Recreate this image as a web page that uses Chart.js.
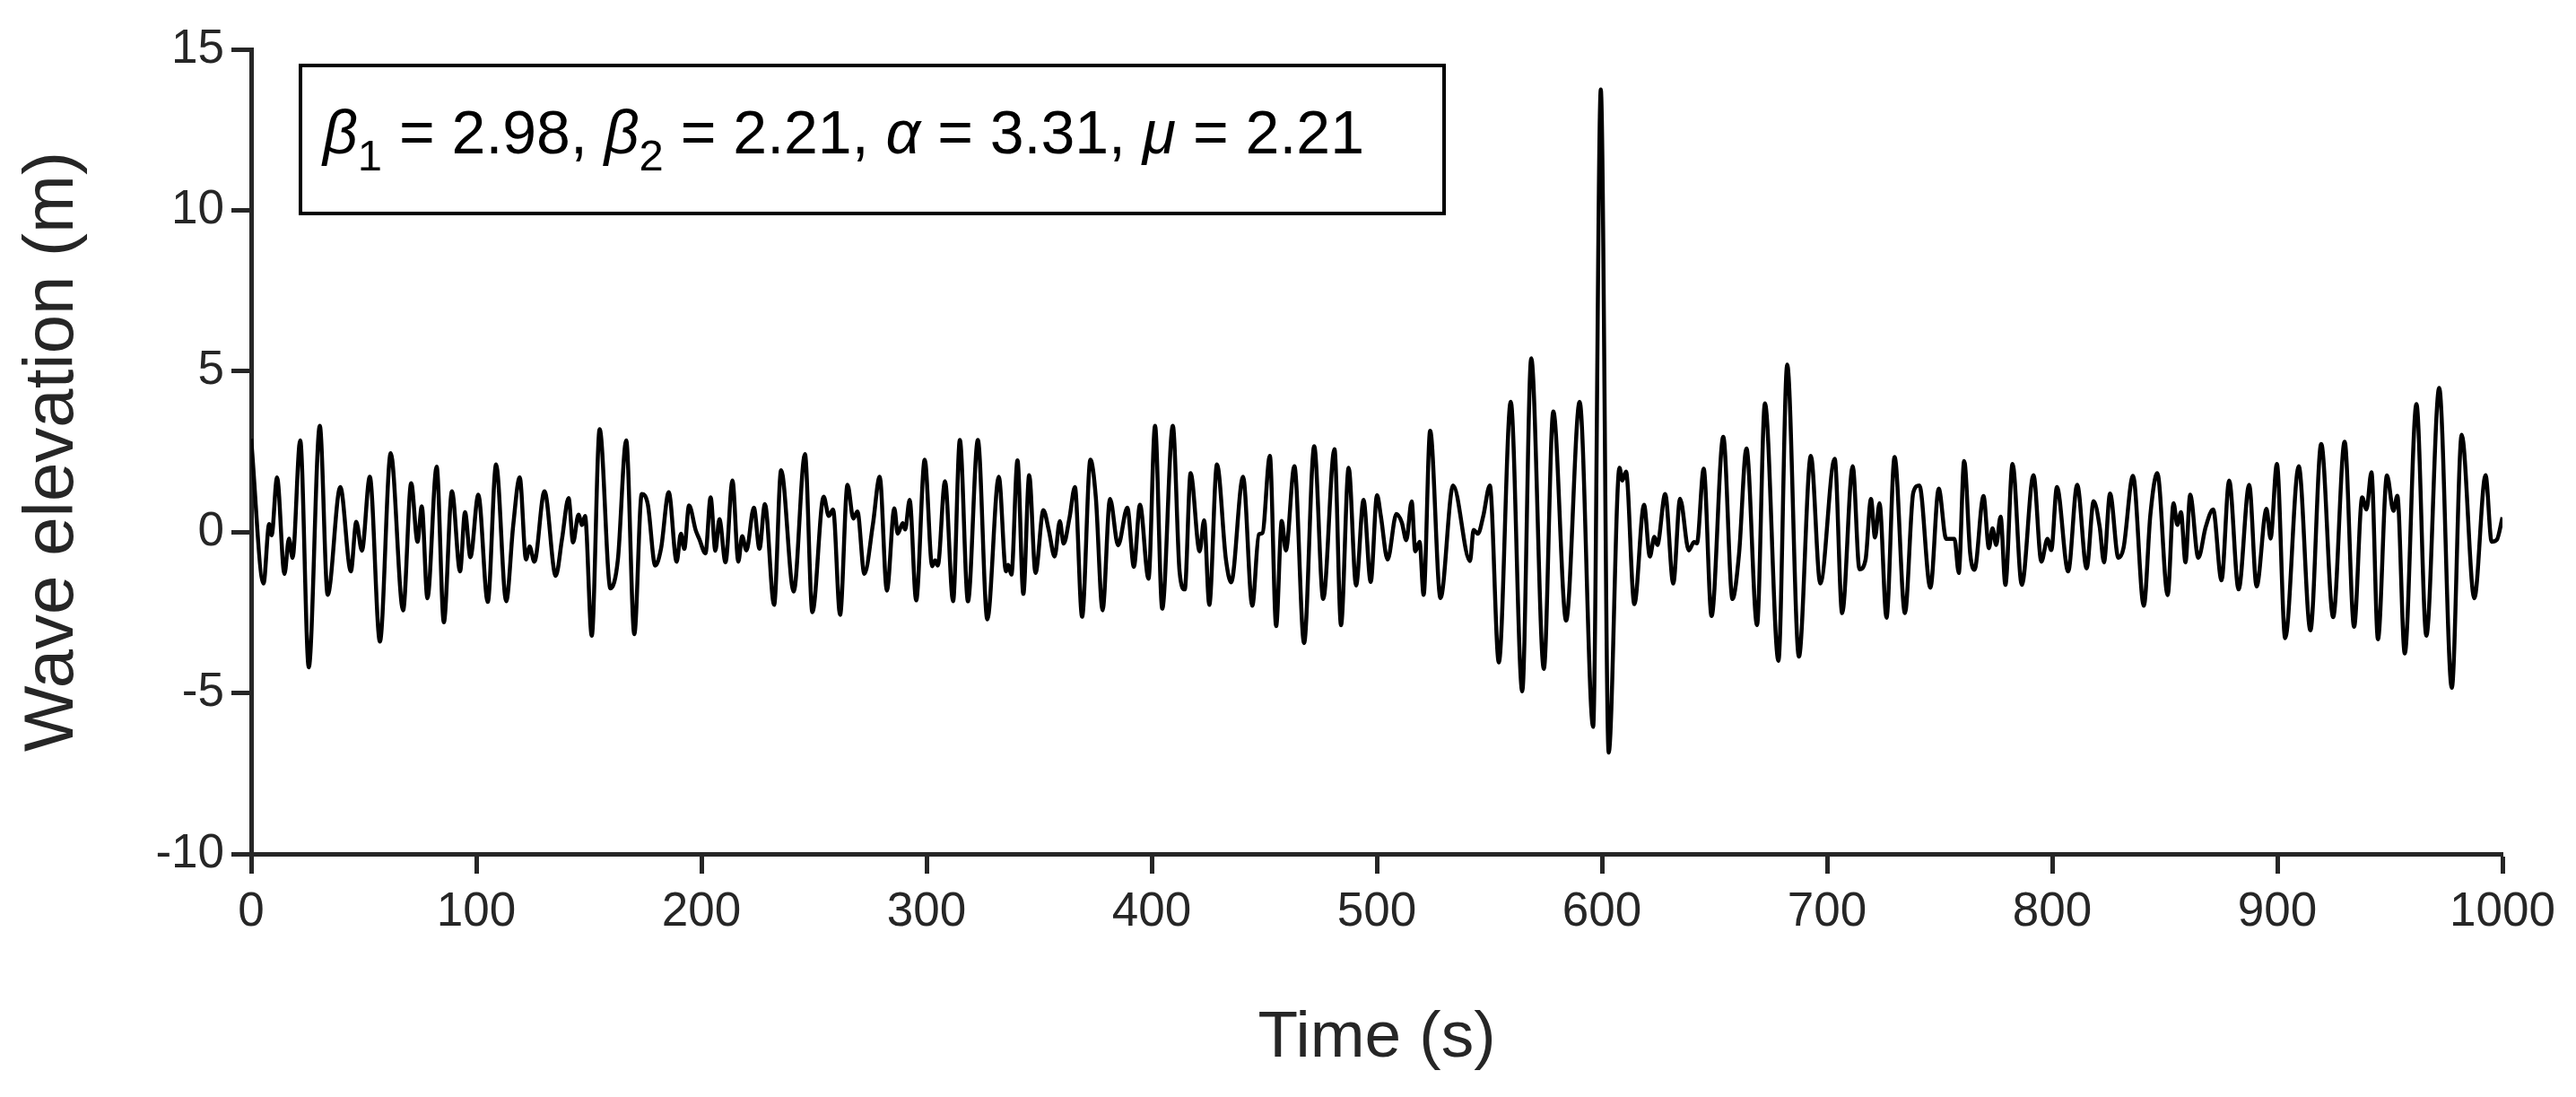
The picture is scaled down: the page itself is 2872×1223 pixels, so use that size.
<!DOCTYPE html>
<html>
<head>
<meta charset="utf-8">
<title>Wave elevation</title>
<script src="https://cdn.jsdelivr.net/npm/chart.js@4.4.1/dist/chart.umd.min.js"></script>
<style>
  html, body { margin: 0; padding: 0; background: #fff; }
  canvas { display: block; }
</style>
</head>
<body>
<canvas id="chartOla" width="2872" height="1223"></canvas>
<script>
// ── DATOS (crestas, valles y hombros) ──────────────────────────────
const timeS = [
    0, 5.5, 8.0, 9.1, 11.5, 14.8, 16.8, 18.4, 21.8, 25.6, 30.5, 34.0, 39.6, 44.3, 46.7, 49.2,
    52.7, 57.2, 62.0, 67.5, 71.1, 73.9, 75.8, 78.3, 82.4, 85.6, 89.2, 92.8, 95.0, 97.4,
    100.9, 105.1, 108.8, 113.3, 116.4, 119.3, 122.1, 123.7, 125.8, 130.3, 135.3, 138.1, 141.0,
    143.0, 145.4, 147.0, 148.3, 151.3, 154.8, 159.6, 162.9, 166.6, 170.2, 173.5, 176.2, 179.5,
    182.1, 185.5, 189.0, 190.9, 192.4, 194.5, 197.5, 199.1,
    201.8, 204.1, 206.2, 208.0, 210.7, 213.8, 216.4, 218.1, 220.0, 223.3, 225.8, 228.2, 232.3,
    235.4, 241.0, 246.0, 249.3, 254.3, 256.6, 258.5, 261.6, 264.9, 267.5, 269.3, 272.4, 276.2,
    279.2, 282.4, 285.7, 287.2, 289.4, 290.5, 292.5, 295.4, 299.2,
    302.5, 303.8, 305.0, 308.2, 311.8, 314.8, 318.4, 322.8, 327.0, 332.1, 335.3, 336.3, 337.7,
    340.4, 343.0, 345.6, 348.4, 351.9, 354.3, 356.9, 359.2, 360.9, 363.5, 365.9, 369.1, 372.8,
    375.2, 378.2, 381.5, 385.1, 389.2, 392.1, 394.8, 398.6,
    401.5, 404.7, 409.4, 412.4, 414.7, 417.3, 421.3, 423.3, 425.6, 429.0, 433.0, 435.3, 440.6,
    444.7, 447.6, 449.2, 452.5, 455.3, 457.8, 459.6, 463.4, 467.7, 472.2, 476.2, 481.2, 484.1,
    487.5, 490.8, 494.1, 497.3,
    500.1, 501.8, 504.8, 508.7, 511.1, 513.1, 515.5, 517.1, 519.0, 520.8, 523.7, 528.3, 533.9,
    541.4, 543.0, 544.9, 547.3, 550.2, 554.2, 559.5, 564.6, 568.6, 574.2, 578.4, 584.1, 590.1,
    596.1, 599.5, 603.0,
    607.8, 609.1, 610.7, 614.4, 618.7, 621.3, 623.3, 624.6, 628.1, 631.7, 634.7, 638.6, 640.9,
    642.2, 645.2, 648.7, 653.9, 658.0, 660.9, 664.2, 668.9, 672.4, 678.4, 682.3, 687.5, 692.8,
    697.0,
    703.4, 706.7, 711.4, 714.4, 717.1, 719.5, 721.3, 723.3, 726.4, 730.0, 734.6, 738.3, 741.0,
    745.9, 749.6, 752.9, 756.6, 758.5, 760.9, 763.6, 765.5, 769.5, 771.9, 773.5, 775.1, 777.1,
    779.2, 782.4, 786.5, 791.7, 795.2, 797.9, 799.6,
    802.1, 807.1, 811.1, 815.3, 818.4, 821.1, 823.0, 825.7, 829.4, 831.7, 835.9, 840.7, 843.6,
    846.7, 851.3, 853.9, 855.6, 857.2, 859.2, 861.3, 864.9, 868.2, 871.5, 875.2, 878.6, 882.8,
    887.5, 890.8, 895.2, 897.0, 899.8,
    903.5, 909.5, 914.7, 919.5, 924.8, 929.9, 934.1, 937.7, 939.6, 941.8, 944.7, 948.7, 951.6,
    953.3, 956.6, 961.8, 966.2, 971.9, 977.5, 981.9, 987.5, 992.5, 995.2, 997.5, 1000
]

const elevationM = [
    2.9, -1.6, 0.25, -0.1, 1.7, -1.3, -0.2, -0.8, 2.85, -4.2, 3.3, -1.95, 1.4, -1.22, 0.32, -0.58,
    1.72, -3.4, 2.45, -2.43, 1.52, -0.3, 0.8, -2.06, 2.03, -2.8, 1.27, -1.22, 0.62, -0.78,
    1.16, -2.17, 2.1, -2.15, 0.2, 1.7, -0.85, -0.45, -0.92, 1.27, -1.36, -0.21, 1.06,
    -0.32, 0.54, 0.22, 0.5, -3.22, 3.2, -1.75, -0.86, 2.85, -3.17, 1.18, 0.86, -1.04,
    -0.5, 1.24, -0.92, -0.05, -0.52, 0.83, 0.05, -0.22,
    -0.66, 1.08, -0.58, 0.4, -0.94, 1.6, -0.92, -0.13, -0.57, 0.76, -0.52, 0.87, -2.26,
    1.92, -1.85, 2.42, -2.49, 1.1, 0.5, 0.7, -2.57, 1.47, 0.42, 0.64, -1.3, 0.25,
    1.72, -1.82, 0.74, -0.05, 0.28, 0.08, 1.0, -2.12, 2.25,
    -1.06, -0.88, -1.04, 1.58, -2.15, 2.86, -2.15, 2.86, -2.71, 1.72, -1.22, -1.02, -1.32,
    2.23, -1.92, 1.77, -1.27, 0.68, 0.06, -0.76, 0.34, -0.36, 0.44, 1.4, -2.63, 2.25,
    1.08, -2.43, 1.03, -0.41, 0.76, -1.08, 0.85, -1.45,
    3.3, -2.38, 3.3, -1.23, -1.78, 1.83, -0.6, 0.37, -2.26, 2.1, -0.86, -1.56, 1.72,
    -2.29, -0.07, -0.03, 2.37, -2.92, 0.35, -0.57, 2.05, -3.45, 2.67, -2.08, 2.58, -2.89,
    2.0, -1.66, 1.0, -1.55,
    1.15, 0.5, -0.85, 0.56, 0.3, -0.25, 0.95, -0.6, -0.3, -1.95, 3.15, -2.05, 1.45,
    -0.9, 0.07, -0.05, 0.5, 1.45, -4.05, 4.05, -4.95, 5.4, -4.25, 3.75, -2.75, 4.05,
    -6.05, 13.75, -6.85,
    2.0, 1.6, 1.88, -2.24, 0.85, -0.76, -0.15, -0.4, 1.18, -1.6, 1.04, -0.57, -0.31,
    -0.35, 1.97, -2.61, 2.96, -2.08, -0.68, 2.6, -2.89, 4.0, -4.0, 5.2, -3.87, 2.37,
    -1.6,
    2.28, -2.52, 2.05, -1.16, -0.86, 1.03, -0.17, 0.9, -2.66, 2.33, -2.52, 1.23, 1.45,
    -1.73, 1.35, -0.21, -0.21, -1.27, 2.21, -0.68, -1.17, 1.12, -0.5, 0.12, -0.4, 0.48,
    -1.64, 2.12, -1.64, 1.77, -0.92, -0.21, -0.56,
    1.4, -1.22, 1.47, -1.13, 0.96, 0.16, -0.94, 1.2, -0.8, -0.49, 1.75, -2.29, 0.53,
    1.83, -1.96, 0.9, 0.22, 0.62, -0.94, 1.16, -0.8, 0.16, 0.7, -1.5, 1.6, -1.78,
    1.47, -1.69, 0.72, -0.2, 2.12,
    -3.3, 2.05, -3.05, 2.74, -2.64, 2.81, -2.94, 1.08, 0.7, 1.86, -3.33, 1.76, 0.66,
    1.13, -3.77, 3.98, -3.22, 4.48, -4.84, 3.02, -2.06, 1.77, -0.3, -0.24, 0.46
]

// Etiquetas y textos
const xTitle = 'Time (s)'
const yTitle = 'Wave elevation (m)'
const annotationParts = [
    { text: 'β', italic: true }, { text: '1', sub: true }, { text: ' = 2.98, ' },
    { text: 'β', italic: true }, { text: '2', sub: true }, { text: ' = 2.21, ' },
    { text: 'α', italic: true }, { text: ' = 3.31, ' },
    { text: 'μ', italic: true }, { text: ' = 2.21' }
]

const AXIS_COLOR = '#262626'
const FONT = "'Liberation Sans', Arial, Helvetica, sans-serif"

// ── CAJA DE ANOTACIÓN ─────────────────────────────────────────────
const annotationBox = {
    id: 'annotationBox',
    afterDraw(chart) {
        const { ctx, chartArea } = chart
        const left = chartArea.left + 55
        const top = chartArea.top + 18
        const width = 1275
        const height = 165
        ctx.save()
        ctx.fillStyle = '#fff'
        ctx.fillRect(left, top, width, height)
        ctx.strokeStyle = '#000'
        ctx.lineWidth = 4
        ctx.strokeRect(left, top, width, height)

        const size = 68
        let x = left + 25
        const baseline = top + 98
        ctx.fillStyle = '#000'
        ctx.textBaseline = 'alphabetic'
        annotationParts.forEach(p => {
            const s = p.sub ? Math.round(size * 0.72) : size
            ctx.font = (p.italic ? 'italic ' : '') + s + 'px ' + FONT
            const y = p.sub ? baseline + size * 0.28 : baseline
            ctx.fillText(p.text, x, y)
            x += ctx.measureText(p.text).width
        })
        ctx.restore()
    }
}

// ── GRÁFICO ───────────────────────────────────────────────────────
new Chart(document.getElementById('chartOla').getContext('2d'), {
    type: 'line',
    data: {
        datasets: [{
            data: timeS.map((t, i) => ({ x: t, y: elevationM[i] })),
            borderColor: '#000',
            borderWidth: 4.5,
            pointRadius: 0,
            fill: false,
            cubicInterpolationMode: 'monotone'
        }]
    },
    options: {
        responsive: false,
        animation: false,
        devicePixelRatio: 1,
        layout: { padding: { top: 55, right: 82, left: 0, bottom: 0 } },
        plugins: { legend: { display: false }, tooltip: { enabled: false } },
        scales: {
            x: {
                type: 'linear', min: 0, max: 1000,
                afterFit: s => { s.height = 271 },
                ticks: { stepSize: 100, padding: 12, color: AXIS_COLOR, font: { family: FONT, size: 53 }, callback: v => String(v), maxRotation: 0 },
                grid: { drawOnChartArea: false, drawTicks: true, tickLength: 22, tickWidth: 5, tickColor: AXIS_COLOR },
                border: { display: true, width: 5, color: AXIS_COLOR },
                title: { display: true, text: xTitle, color: AXIS_COLOR, font: { family: FONT, size: 73 }, padding: { top: 0, bottom: 21 } }
            },
            y: {
                type: 'linear', min: -10, max: 15,
                afterFit: s => { s.width = 280 },
                ticks: { stepSize: 5, padding: 8, color: AXIS_COLOR, font: { family: FONT, size: 53 }, callback: v => String(v) },
                grid: { drawOnChartArea: false, drawTicks: true, tickLength: 22, tickWidth: 5, tickColor: AXIS_COLOR },
                border: { display: true, width: 5, color: AXIS_COLOR },
                title: { display: true, text: yTitle, color: AXIS_COLOR, font: { family: FONT, size: 78 }, padding: { top: 13, bottom: 0 } }
            }
        }
    },
    plugins: [annotationBox]
})
</script>
</body>
</html>
